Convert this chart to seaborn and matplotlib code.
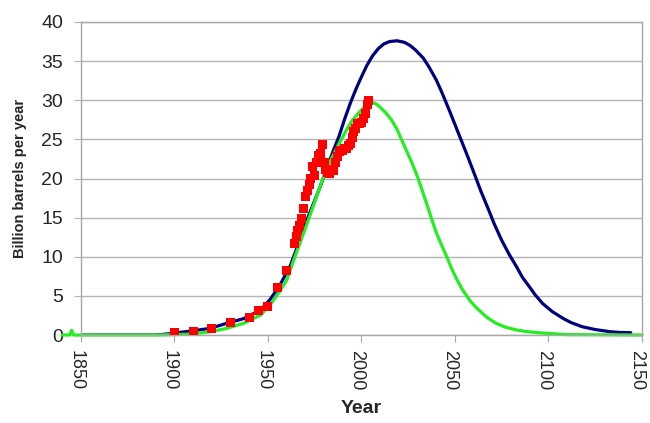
import numpy as np
import pandas as pd
import seaborn as sns
import matplotlib.pyplot as plt
import matplotlib.transforms as mtransforms

# curve values (year, billion barrels per year)
blue_years = [1850, 1890, 1896, 1910, 1919, 1928, 1937, 1946, 1951, 1956, 1962, 1967, 1971, 1974,
              1978, 1981, 1985, 1988, 1991, 1994, 1997, 2000, 2003, 2006, 2009, 2012, 2015, 2019,
              2023, 2026, 2029, 2033, 2036, 2040, 2043, 2047, 2050, 2054, 2057, 2061, 2064, 2068,
              2071, 2075, 2079, 2083, 2086, 2090, 2093, 2097, 2102, 2108, 2112, 2118, 2125, 2133,
              2138, 2144]
blue_vals = [0, 0, 0.13, 0.55, 0.85, 1.5, 2.1, 3.2, 4.5, 6.2, 8.9, 12.1, 14.8, 16.6,
             19.0, 21.0, 23.6, 25.4, 27.6, 29.6, 31.4, 33.0, 34.5, 35.7, 36.6, 37.2, 37.5, 37.6,
             37.4, 37.0, 36.4, 35.4, 34.3, 32.6, 31.0, 28.7, 26.9, 24.5, 22.7, 20.2, 18.3, 16.0,
             14.2, 12.1, 10.3, 8.7, 7.4, 6.1, 5.1, 4.0, 3.0, 2.1, 1.6, 1.06, 0.7, 0.42,
             0.33, 0.3]

green_years = [1840, 1844, 1845, 1846, 1890, 1900, 1910, 1919, 1928, 1937, 1946, 1951, 1956, 1960,
               1965, 1971, 1976, 1981, 1987, 1992, 1995, 1999, 2002, 2004, 2006, 2008, 2010, 2013,
               2016, 2019, 2021, 2024, 2027, 2030, 2032, 2035, 2037, 2040, 2043, 2046, 2048, 2051,
               2054, 2058, 2061, 2065, 2068, 2072, 2077, 2083, 2088, 2094, 2110, 2150]
green_vals = [0, 0, 0.6, 0, 0, 0.05, 0.13, 0.42, 0.85, 1.5, 2.55, 3.8, 5.5, 7.0,
              10.4, 14.3, 17.7, 21.1, 24.0, 26.2, 27.4, 28.5, 29.3, 29.6, 29.7, 29.5, 29.1, 28.4,
              27.5, 26.3, 25.2, 23.6, 22.0, 20.2, 18.8, 16.7, 15.2, 13.1, 11.4, 9.8, 8.6, 7.1,
              5.8, 4.4, 3.6, 2.7, 2.1, 1.5, 1.0, 0.64, 0.45, 0.3, 0.05, 0]

red_years = [1900, 1910, 1920, 1930, 1940, 1945, 1950, 1955, 1960,
             1964, 1965, 1966, 1967, 1968, 1969, 1970, 1971, 1972, 1973, 1974, 1975, 1976, 1977,
             1978, 1979, 1980, 1981, 1982, 1983, 1984, 1985, 1986, 1987, 1988, 1989, 1990, 1991,
             1992, 1993, 1994, 1995, 1996, 1997, 1998, 1999, 2000, 2001, 2002, 2003, 2004]
red_vals = [0.35, 0.5, 0.85, 1.6, 2.3, 3.1, 3.7, 6.1, 8.2,
            11.7, 12.6, 13.4, 14.0, 14.9, 16.2, 17.7, 18.5, 19.2, 20.0, 21.5, 20.4, 22.1, 23.0,
            23.2, 24.3, 22.0, 21.2, 20.8, 20.6, 21.1, 21.0, 22.1, 22.8, 23.4, 23.6, 23.6, 23.8,
            23.8, 24.2, 24.5, 25.3, 26.0, 26.4, 27.0, 27.0, 27.2, 27.7, 28.3, 29.4, 30.0]

sns.set_style("white")
plt.rcParams['font.family'] = ['Liberation Sans', 'DejaVu Sans']

fig = plt.figure(figsize=(6.5, 4.23), dpi=100)
ax = fig.add_axes([0.1246, 0.208, 0.863, 0.740])

sns.lineplot(x=blue_years, y=blue_vals, ax=ax, color="#000080", linewidth=2.3)
sns.lineplot(x=green_years, y=green_vals, ax=ax, color="#22ee22", linewidth=2.3, clip_on=False)
sns.scatterplot(x=red_years, y=red_vals, ax=ax, color="#ff0000", marker="s", s=42,
                edgecolor="none", zorder=5)

ax.set_xlim(1850, 2150)
ax.set_ylim(0, 40)
ax.set_xticks(range(1850, 2151, 50))
ax.set_yticks(range(0, 41, 5))
ax.yaxis.grid(True, color="#b4b4b4", linewidth=1)
ax.xaxis.grid(False)
for s in ax.spines.values():
    s.set_color("#a8a8a8")
    s.set_linewidth(1)
ax.tick_params(axis="y", length=5, color="#b4b4b4", pad=8, labelsize=14, left=True)
ax.tick_params(axis="x", length=5, color="#a8a8a8", pad=6, labelsize=13, bottom=True,
               labelrotation=-90)
# labels sit a few pixels left of their ticks in the original
shift = mtransforms.ScaledTranslation(-0.05, 0, fig.dpi_scale_trans)
for lab in ax.get_xticklabels():
    lab.set_va("top")
    lab.set_ha("center")
    lab.set_transform(lab.get_transform() + shift)

ax.set_xlabel("Year", fontsize=14, fontweight="bold", labelpad=7)
ax.set_ylabel("Billion barrels per year", fontsize=10.5, fontweight="bold", labelpad=10)

fig.savefig("out.png", dpi=100)
